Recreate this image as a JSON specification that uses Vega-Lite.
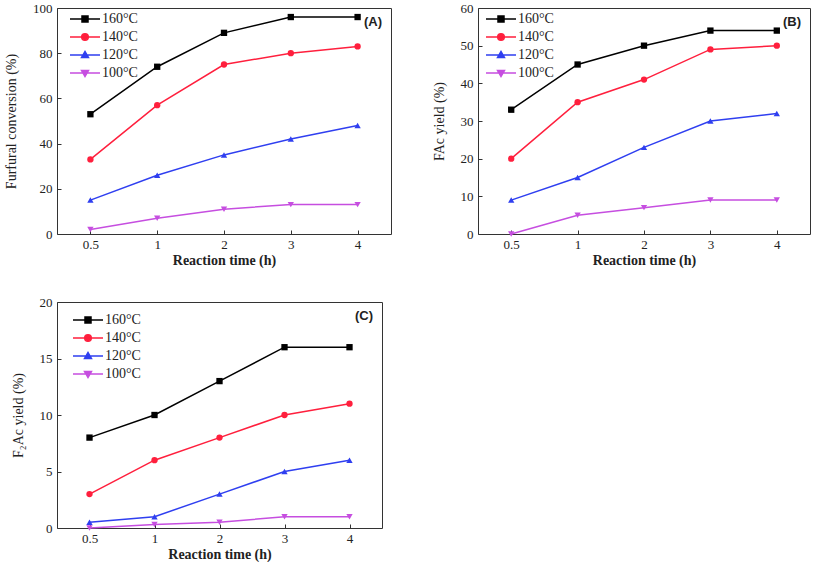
{
  "$schema": "https://vega.github.io/schema/vega-lite/v6.json",
  "padding": {"left": 4, "top": 1, "right": 0, "bottom": 0},
  "background": "white",
  "datasets": {
    "a": [
      {"t": "0.5", "T": "160°C", "v": 53}, {"t": "1", "T": "160°C", "v": 74}, {"t": "2", "T": "160°C", "v": 89}, {"t": "3", "T": "160°C", "v": 96}, {"t": "4", "T": "160°C", "v": 96},
      {"t": "0.5", "T": "140°C", "v": 33}, {"t": "1", "T": "140°C", "v": 57}, {"t": "2", "T": "140°C", "v": 75}, {"t": "3", "T": "140°C", "v": 80}, {"t": "4", "T": "140°C", "v": 83},
      {"t": "0.5", "T": "120°C", "v": 15}, {"t": "1", "T": "120°C", "v": 26}, {"t": "2", "T": "120°C", "v": 35}, {"t": "3", "T": "120°C", "v": 42}, {"t": "4", "T": "120°C", "v": 48},
      {"t": "0.5", "T": "100°C", "v": 2}, {"t": "1", "T": "100°C", "v": 7}, {"t": "2", "T": "100°C", "v": 11}, {"t": "3", "T": "100°C", "v": 13}, {"t": "4", "T": "100°C", "v": 13}
    ],
    "b": [
      {"t": "0.5", "T": "160°C", "v": 33}, {"t": "1", "T": "160°C", "v": 45}, {"t": "2", "T": "160°C", "v": 50}, {"t": "3", "T": "160°C", "v": 54}, {"t": "4", "T": "160°C", "v": 54},
      {"t": "0.5", "T": "140°C", "v": 20}, {"t": "1", "T": "140°C", "v": 35}, {"t": "2", "T": "140°C", "v": 41}, {"t": "3", "T": "140°C", "v": 49}, {"t": "4", "T": "140°C", "v": 50},
      {"t": "0.5", "T": "120°C", "v": 9}, {"t": "1", "T": "120°C", "v": 15}, {"t": "2", "T": "120°C", "v": 23}, {"t": "3", "T": "120°C", "v": 30}, {"t": "4", "T": "120°C", "v": 32},
      {"t": "0.5", "T": "100°C", "v": 0}, {"t": "1", "T": "100°C", "v": 5}, {"t": "2", "T": "100°C", "v": 7}, {"t": "3", "T": "100°C", "v": 9}, {"t": "4", "T": "100°C", "v": 9}
    ],
    "c": [
      {"t": "0.5", "T": "160°C", "v": 8}, {"t": "1", "T": "160°C", "v": 10}, {"t": "2", "T": "160°C", "v": 13}, {"t": "3", "T": "160°C", "v": 16}, {"t": "4", "T": "160°C", "v": 16},
      {"t": "0.5", "T": "140°C", "v": 3}, {"t": "1", "T": "140°C", "v": 6}, {"t": "2", "T": "140°C", "v": 8}, {"t": "3", "T": "140°C", "v": 10}, {"t": "4", "T": "140°C", "v": 11},
      {"t": "0.5", "T": "120°C", "v": 0.5}, {"t": "1", "T": "120°C", "v": 1}, {"t": "2", "T": "120°C", "v": 3}, {"t": "3", "T": "120°C", "v": 5}, {"t": "4", "T": "120°C", "v": 6},
      {"t": "0.5", "T": "100°C", "v": 0}, {"t": "1", "T": "100°C", "v": 0.3}, {"t": "2", "T": "100°C", "v": 0.5}, {"t": "3", "T": "100°C", "v": 1}, {"t": "4", "T": "100°C", "v": 1}
    ]
  },
  "config": {
    "font": "Liberation Serif",
    "view": {"stroke": "#333333", "strokeWidth": 1},
    "axis": {
      "domain": false, "grid": false, "tickColor": "#333333", "tickSize": -4, "tickWidth": 1,
      "labelFont": "Liberation Serif", "labelFontSize": 13, "labelColor": "#222222",
      "titleFont": "Liberation Serif", "titleFontSize": 14, "titleColor": "#222222"
    },
    "axisX": {"labelPadding": 8, "titlePadding": 2, "titleFontWeight": "bold"},
    "axisY": {"labelPadding": 9, "titlePadding": 14, "titleFontWeight": "normal"},
    "title": {"anchor": "end", "font": "Liberation Sans", "fontSize": 13, "fontWeight": "bold", "color": "#222222", "baseline": "middle", "offset": -27, "dx": -9},
    "legend": {
      "orient": "none", "title": null, "padding": 0,
      "labelFont": "Liberation Serif", "labelFontSize": 14, "labelColor": "#222222",
      "symbolSize": 36, "labelOffset": 10, "rowPadding": 4,
      "symbolStrokeWidth": 1.5
    }
  },
  "resolve": {"legend": {"color": "independent"}, "scale": {"y": "independent"}},
  "spacing": 27,
  "vconcat": [
    {
      "hconcat": [
        {
          "width": 334, "height": 226,
          "title": {"text": "(A)"},
          "data": {"name": "a"},
          "encoding": {
            "x": {"field": "t", "type": "ordinal", "sort": ["0.5", "1", "2", "3", "4"], "scale": {"type": "point", "padding": 0.5}, "axis": {"labelAngle": 0, "title": "Reaction time (h)"}},
            "y": {"field": "v", "type": "quantitative", "scale": {"domain": [0, 100]}, "axis": {"values": [0, 20, 40, 60, 80, 100], "title": "Furfural conversion (%)"}},
            "color": {"field": "T", "type": "nominal", "scale": {"domain": ["160°C", "140°C", "120°C", "100°C"], "range": ["#000000", "#ff1f3d", "#2f3ff0", "#c64ee0"]},
              "legend": {
                "legendX": 21, "legendY": 4,
                "encode": {"symbols": {"update": {
                  "shape": {"signal": "datum.value === '160°C' ? 'M-5,0H5M-1,-1H1V1H-1Z' : datum.value === '140°C' ? 'M-5,0H5M-1.1,0A1.1,1.1 0 1,0 1.1,0A1.1,1.1 0 1,0 -1.1,0' : datum.value === '120°C' ? 'M-5,0H5M-1.15,0.8L1.15,0.8L0,-1.15Z' : 'M-5,0H5M-1.15,-0.8L1.15,-0.8L0,1.15Z'"},
                  "stroke": {"signal": "datum.value === '160°C' ? '#000000' : datum.value === '140°C' ? '#ff1f3d' : datum.value === '120°C' ? '#2f3ff0' : '#c64ee0'"},
                  "fill": {"signal": "datum.value === '160°C' ? '#000000' : datum.value === '140°C' ? '#ff1f3d' : datum.value === '120°C' ? '#2f3ff0' : '#c64ee0'"},
                  "strokeWidth": {"value": 1.5},
                  "opacity": {"value": 1}
                }}}
              }}
          },
          "layer": [
            {"mark": {"type": "line", "strokeWidth": 1.5}},
            {
              "mark": {"type": "point", "filled": true, "opacity": 1, "size": 40},
              "encoding": {
                "shape": {"field": "T", "type": "nominal", "scale": {"domain": ["160°C", "140°C", "120°C", "100°C"], "range": ["square", "circle", "triangle-up", "triangle-down"]}, "legend": null}
              }
            }
          ]
        },
        {
          "width": 332, "height": 226,
          "title": {"text": "(B)"},
          "data": {"name": "b"},
          "encoding": {
            "x": {"field": "t", "type": "ordinal", "sort": ["0.5", "1", "2", "3", "4"], "scale": {"type": "point", "padding": 0.5}, "axis": {"labelAngle": 0, "title": "Reaction time (h)"}},
            "y": {"field": "v", "type": "quantitative", "scale": {"domain": [0, 60]}, "axis": {"values": [0, 10, 20, 30, 40, 50, 60], "title": "FAc yield (%)"}},
            "color": {"field": "T", "type": "nominal", "scale": {"domain": ["160°C", "140°C", "120°C", "100°C"], "range": ["#000000", "#ff1f3d", "#2f3ff0", "#c64ee0"]},
              "legend": {
                "legendX": 16, "legendY": 4,
                "encode": {"symbols": {"update": {
                  "shape": {"signal": "datum.value === '160°C' ? 'M-5,0H5M-1,-1H1V1H-1Z' : datum.value === '140°C' ? 'M-5,0H5M-1.1,0A1.1,1.1 0 1,0 1.1,0A1.1,1.1 0 1,0 -1.1,0' : datum.value === '120°C' ? 'M-5,0H5M-1.15,0.8L1.15,0.8L0,-1.15Z' : 'M-5,0H5M-1.15,-0.8L1.15,-0.8L0,1.15Z'"},
                  "stroke": {"signal": "datum.value === '160°C' ? '#000000' : datum.value === '140°C' ? '#ff1f3d' : datum.value === '120°C' ? '#2f3ff0' : '#c64ee0'"},
                  "fill": {"signal": "datum.value === '160°C' ? '#000000' : datum.value === '140°C' ? '#ff1f3d' : datum.value === '120°C' ? '#2f3ff0' : '#c64ee0'"},
                  "strokeWidth": {"value": 1.5},
                  "opacity": {"value": 1}
                }}}
              }}
          },
          "layer": [
            {"mark": {"type": "line", "strokeWidth": 1.5}},
            {
              "mark": {"type": "point", "filled": true, "opacity": 1, "size": 40},
              "encoding": {
                "shape": {"field": "T", "type": "nominal", "scale": {"domain": ["160°C", "140°C", "120°C", "100°C"], "range": ["square", "circle", "triangle-up", "triangle-down"]}, "legend": null}
              }
            }
          ]
        }
      ],
      "spacing": 39,
      "resolve": {"legend": {"color": "independent"}, "scale": {"y": "independent"}}
    },
    {
      "width": 325, "height": 226,
      "title": {"text": "(C)"},
      "data": {"name": "c"},
      "encoding": {
        "x": {"field": "t", "type": "ordinal", "sort": ["0.5", "1", "2", "3", "4"], "scale": {"type": "point", "padding": 0.5}, "axis": {"labelAngle": 0, "title": "Reaction time (h)"}},
        "y": {"field": "v", "type": "quantitative", "scale": {"domain": [0, 20]}, "axis": {"values": [0, 5, 10, 15, 20], "title": "F₂Ac yield (%)"}},
        "color": {"field": "T", "type": "nominal", "scale": {"domain": ["160°C", "140°C", "120°C", "100°C"], "range": ["#000000", "#ff1f3d", "#2f3ff0", "#c64ee0"]},
          "legend": {
            "legendX": 24, "legendY": 11,
            "encode": {"symbols": {"update": {
              "shape": {"signal": "datum.value === '160°C' ? 'M-5,0H5M-1,-1H1V1H-1Z' : datum.value === '140°C' ? 'M-5,0H5M-1.1,0A1.1,1.1 0 1,0 1.1,0A1.1,1.1 0 1,0 -1.1,0' : datum.value === '120°C' ? 'M-5,0H5M-1.15,0.8L1.15,0.8L0,-1.15Z' : 'M-5,0H5M-1.15,-0.8L1.15,-0.8L0,1.15Z'"},
              "stroke": {"signal": "datum.value === '160°C' ? '#000000' : datum.value === '140°C' ? '#ff1f3d' : datum.value === '120°C' ? '#2f3ff0' : '#c64ee0'"},
              "fill": {"signal": "datum.value === '160°C' ? '#000000' : datum.value === '140°C' ? '#ff1f3d' : datum.value === '120°C' ? '#2f3ff0' : '#c64ee0'"},
              "strokeWidth": {"value": 1.5},
              "opacity": {"value": 1}
            }}}
          }}
      },
      "layer": [
        {"mark": {"type": "line", "strokeWidth": 1.5}},
        {
          "mark": {"type": "point", "filled": true, "opacity": 1, "size": 40},
          "encoding": {
            "shape": {"field": "T", "type": "nominal", "scale": {"domain": ["160°C", "140°C", "120°C", "100°C"], "range": ["square", "circle", "triangle-up", "triangle-down"]}, "legend": null}
          }
        }
      ]
    }
  ]
}
